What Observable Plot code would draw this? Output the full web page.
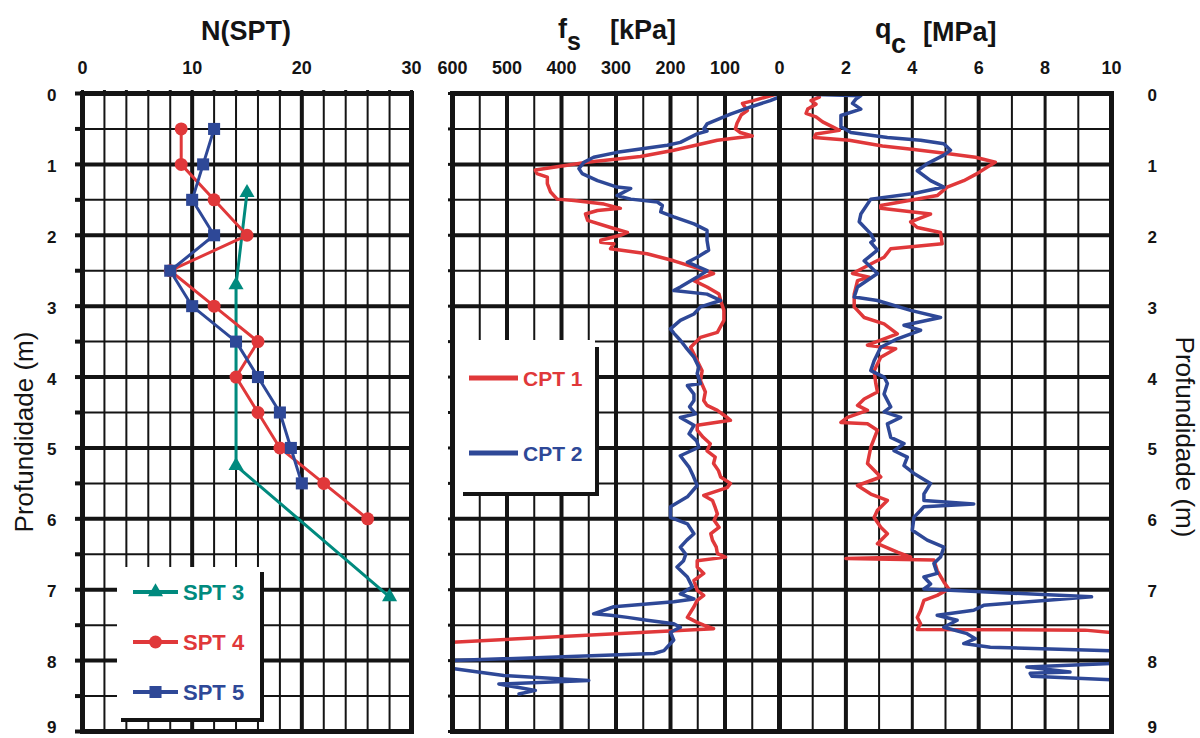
<!DOCTYPE html>
<html>
<head>
<meta charset="utf-8">
<script src="https://cdn.jsdelivr.net/npm/d3@7"></script>
<script src="https://cdn.jsdelivr.net/npm/@observablehq/plot@0.6"></script>
<style>
  body { margin: 0; background: #fff; }
  #chart { position: relative; width: 1200px; height: 738px; overflow: hidden; }
  #chart > .layer { position: absolute; left: 0; top: 0; }
</style>
</head>
<body>
<div id="chart"></div>
<script>
// ---- SPT blow counts: N versus depth (m) ----
const spt3Depth = [1.4, 2.7, 5.25, 7.1];
const spt3N     = [15, 14, 14, 28];
const spt4Depth = [0.5, 1, 1.5, 2, 2.5, 3, 3.5, 4, 4.5, 5, 5.5, 6];
const spt4N     = [9, 9, 12, 15, 8, 12, 16, 14, 16, 18, 22, 26];
const spt5Depth = [0.5, 1, 1.5, 2, 2.5, 3, 3.5, 4, 4.5, 5, 5.5];
const spt5N     = [12, 11, 10, 12, 8, 10, 14, 16, 18, 19, 20];

// ---- CPT sleeve friction fs (kPa) ----
const cpt1FsDepth = [0.01,0.1,0.14,0.24,0.3,0.42,0.5,0.55,0.6,0.66,0.8,0.89,0.97,1.08,1.13,1.18,1.27,1.39,1.49,1.51,1.56,1.62,1.65,1.7,1.79,1.89,1.96,2.0,2.07,2.1,2.12,2.19,2.26,2.36,2.45,2.52,2.54,2.64,2.73,2.83,2.92,3.06,3.2,3.37,3.44,3.58,3.77,3.91,4.05,4.21,4.33,4.4,4.47,4.57,4.61,4.68,4.75,4.85,4.94,5.04,5.13,5.22,5.32,5.41,5.5,5.56,5.67,5.74,5.84,5.93,6.02,6.12,6.21,6.3,6.4,6.49,6.54,6.59,6.68,6.77,6.87,7.01,7.08,7.15,7.24,7.39,7.46,7.5,7.55,7.74];
const cpt1Fs      = [7,48,68,59,70,78,81,72,50,114,194,255,353,448,445,426,426,420,408,377,322,292,334,356,352,310,279,292,328,328,304,310,243,194,157,127,121,157,133,111,108,102,102,114,145,163,151,142,145,136,139,133,114,96,90,151,151,140,127,133,118,121,112,108,90,96,139,123,118,114,120,111,126,123,116,114,99,151,151,139,157,151,139,151,157,169,151,139,121,600];
const cpt2FsDepth = [0.05,0.1,0.19,0.29,0.43,0.5,0.53,0.57,0.69,0.73,0.83,0.9,0.97,1.06,1.13,1.23,1.32,1.34,1.44,1.49,1.53,1.58,1.67,1.74,1.84,1.93,2.07,2.21,2.31,2.38,2.5,2.59,2.73,2.78,2.83,2.92,3.01,3.11,3.2,3.32,3.38,3.48,3.58,3.72,3.86,3.95,4.09,4.12,4.24,4.33,4.42,4.52,4.57,4.68,4.8,4.9,4.99,5.11,5.27,5.4,5.53,5.69,5.83,5.98,6.07,6.21,6.3,6.4,6.5,6.59,6.68,6.82,6.96,7.06,7.13,7.17,7.24,7.34,7.36,7.39,7.43,7.48,7.53,7.6,7.71,7.86,7.9,8.0,8.05,8.11,8.21,8.28,8.33,8.42,8.47];
const cpt2Fs      = [1,17,53,90,133,139,133,151,182,206,298,341,359,368,362,334,298,273,298,273,224,215,218,194,157,133,133,130,151,169,133,151,182,194,133,108,145,157,182,200,194,182,172,157,148,151,145,169,157,157,165,154,182,157,166,152,148,182,166,158,151,169,200,200,169,157,170,182,172,176,188,169,160,182,157,194,304,341,310,279,243,194,182,200,194,212,230,600,660,600,506,350,515,448,478];

// ---- CPT cone resistance qc (MPa) ----
const cpt1QcDepth = [0.05,0.1,0.15,0.22,0.28,0.33,0.4,0.47,0.52,0.57,0.62,0.66,0.74,0.79,0.85,0.9,0.97,1.04,1.13,1.23,1.32,1.44,1.58,1.62,1.7,1.81,1.89,1.96,2.12,2.19,2.31,2.38,2.54,2.59,2.64,2.83,3.01,3.16,3.25,3.39,3.55,3.6,3.72,3.91,4.09,4.21,4.31,4.4,4.47,4.57,4.64,4.66,4.75,4.99,5.22,5.41,5.53,5.65,5.74,5.88,5.98,6.12,6.21,6.35,6.47,6.54,6.56,6.58,6.73,6.89,6.99,7.08,7.15,7.29,7.39,7.48,7.56,7.57,7.62];
const cpt1Qc      = [1.2,0.95,1.1,0.85,0.8,1.1,1.3,1.6,1.8,1.1,1.05,2.1,3.1,4.05,5.1,5.9,6.5,6.25,5.95,5.55,5.05,4.75,3.05,3.05,4.55,3.95,4.15,4.85,4.9,3.35,3.15,2.85,2.2,2.7,2.35,2.25,2.25,2.55,3.15,3.55,2.65,3.5,3.05,2.85,2.9,2.95,2.55,2.35,2.65,2.05,1.85,2.65,2.95,2.75,2.65,3.05,2.35,2.75,3.25,2.95,2.85,3.05,3.25,2.95,3.55,3.95,2.0,4.65,4.75,4.95,5.1,4.75,4.35,4.25,4.15,4.25,4.15,9.2,10.4];
const cpt2QcDepth = [0.01,0.03,0.08,0.14,0.22,0.31,0.47,0.55,0.62,0.66,0.71,0.8,0.87,0.99,1.09,1.23,1.32,1.41,1.49,1.7,1.81,1.98,2.07,2.1,2.21,2.36,2.54,2.73,2.87,2.92,3.06,3.16,3.27,3.34,3.46,3.58,3.77,3.91,4.0,4.09,4.24,4.42,4.49,4.57,4.66,4.85,4.94,5.04,5.13,5.25,5.36,5.5,5.65,5.74,5.79,5.83,5.98,6.16,6.3,6.4,6.54,6.63,6.77,6.82,6.92,6.99,7.1,7.22,7.29,7.36,7.43,7.53,7.62,7.69,7.76,7.81,7.86,7.95,8.04,8.09,8.16,8.18,8.22,8.27,8.3];
const cpt2Qc      = [0.85,2.45,2.3,2.2,2.45,1.85,1.85,2.15,3.25,4.25,4.95,5.15,4.95,4.45,4.15,4.55,4.95,4.05,2.75,2.45,2.4,2.75,2.85,2.75,2.95,2.55,2.95,2.35,2.25,2.95,3.95,4.85,3.75,4.25,3.55,3.05,2.85,2.75,3.15,3.25,3.15,3.35,3.15,3.65,3.25,3.35,3.75,3.45,3.85,3.75,4.05,4.55,4.35,4.35,5.85,4.35,4.05,4.0,4.45,4.95,4.85,4.65,4.75,4.35,4.55,4.35,9.4,6.15,5.85,4.75,5.35,4.95,5.65,5.9,5.55,6.35,10,11.5,10,7.45,8.75,7.55,7.6,10,10.5];

// ---- axis ticks ----
const nTicks  = [0, 10, 20, 30];
const fsTicks = [0, 100, 200, 300, 400, 500, 600];
const qcTicks = [2, 4, 6, 8, 10];
const depthLabels = [0, 1, 2, 3, 4, 5, 6, 7, 8];
const depthLast = [9];

const ink = "#141414";
const red = "#e0383a";
const blue = "#2e4897";
const teal = "#008a7e";
const font = '"Liberation Sans", Arial, sans-serif';

const rows = (depths, values) => depths.map((d, i) => ({depth: d, value: values[i]}));

const W = 1200, H = 738, TOP = 93, BOTTOM = 7;
const halfMeters  = d3.range(0.5, 9, 1);
const wholeMeters = d3.range(1, 9);
const allHalfTicks = d3.range(0, 9.01, 0.5);

const baseStyle = {background: "none", fontFamily: font, fontWeight: "bold", fontSize: "17px", color: ink, overflow: "visible"};

const depthGrid = [
  Plot.ruleY(halfMeters, {stroke: ink, strokeWidth: 2}),
  Plot.ruleY(wholeMeters, {stroke: ink, strokeWidth: 4})
];

// depth tick labels; the last one sits just above the bottom edge
const depthAxis = (anchor, tickPadding) => [
  Plot.axisY({anchor, ticks: depthLabels, tickSize: 0, tickPadding, dy: 2, fontSize: 17, fontWeight: "bold"}),
  Plot.axisY({anchor, ticks: depthLast, tickSize: 0, tickPadding, dy: -4, fontSize: 17, fontWeight: "bold"})
];

// Panel 1: N(SPT)
const sptPlot = Plot.plot({
  width: W, height: H,
  marginLeft: 82, marginRight: W - 411, marginTop: TOP, marginBottom: BOTTOM,
  style: baseStyle,
  x: {domain: [0, 30], label: null},
  y: {domain: [0, 9], reverse: true, label: null},
  marks: [
    Plot.ruleX([2, 4, 6, 8, 12, 14, 16, 18, 22, 24, 26, 28], {stroke: ink, strokeWidth: 2}),
    Plot.ruleX([10, 20], {stroke: ink, strokeWidth: 4}),
    ...depthGrid,
    Plot.axisX({anchor: "top", ticks: d3.range(0, 31, 2), tickSize: 4, strokeWidth: 3, tickFormat: () => ""}),
    Plot.axisX({anchor: "top", ticks: nTicks, tickSize: 0, tickPadding: 20, fontSize: 18, fontWeight: "bold"}),
    Plot.axisY({anchor: "left", ticks: allHalfTicks, tickSize: 7, strokeWidth: 4, tickFormat: () => ""}),
    ...depthAxis("left", 26),
    Plot.frame({stroke: ink, strokeWidth: 5}),
    Plot.line(rows(spt3Depth, spt3N), {x: "value", y: "depth", stroke: teal, strokeWidth: 3}),
    Plot.line(rows(spt4Depth, spt4N), {x: "value", y: "depth", stroke: red, strokeWidth: 3}),
    Plot.line(rows(spt5Depth, spt5N), {x: "value", y: "depth", stroke: blue, strokeWidth: 3}),
    Plot.dot(rows(spt3Depth, spt3N), {x: "value", y: "depth", symbol: "triangle", r: 5.6, fill: teal}),
    Plot.dot(rows(spt4Depth, spt4N), {x: "value", y: "depth", symbol: "circle", r: 6.5, fill: red}),
    Plot.dot(rows(spt5Depth, spt5N), {x: "value", y: "depth", symbol: "square", r: 6.8, fill: blue})
  ]
});

// Panel 2: sleeve friction fs, reversed axis
const fsPlot = Plot.plot({
  width: W, height: H,
  marginLeft: 452, marginRight: W - 779, marginTop: TOP, marginBottom: BOTTOM,
  style: baseStyle,
  x: {domain: [0, 600], reverse: true, label: null},
  y: {domain: [0, 9], reverse: true, label: null},
  marks: [
    Plot.ruleX([50, 150, 250, 350, 450, 550], {stroke: ink, strokeWidth: 2}),
    Plot.ruleX([100, 200, 300, 400, 500], {stroke: ink, strokeWidth: 4}),
    ...depthGrid,
    Plot.axisX({anchor: "top", ticks: fsTicks, tickSize: 0, tickPadding: 20, fontSize: 18, fontWeight: "bold"}),
    Plot.axisY({anchor: "left", ticks: allHalfTicks, tickSize: 4, strokeWidth: 3, tickFormat: () => ""}),
    Plot.line(rows(cpt1FsDepth, cpt1Fs), {x: "value", y: "depth", stroke: red, strokeWidth: 3.5, clip: true}),
    Plot.line(rows(cpt2FsDepth, cpt2Fs), {x: "value", y: "depth", stroke: blue, strokeWidth: 3.5, clip: true}),
    Plot.frame({stroke: ink, strokeWidth: 5})
  ]
});

// Panel 3: cone resistance qc
const qcPlot = Plot.plot({
  width: W, height: H,
  marginLeft: 779, marginRight: W - 1111, marginTop: TOP, marginBottom: BOTTOM,
  style: baseStyle,
  x: {domain: [0, 10], label: null},
  y: {domain: [0, 9], reverse: true, label: null},
  marks: [
    Plot.ruleX([1, 3, 5, 7, 9], {stroke: ink, strokeWidth: 2}),
    Plot.ruleX([4, 8], {stroke: ink, strokeWidth: 3}),
    Plot.ruleX([2, 6], {stroke: ink, strokeWidth: 4}),
    ...depthGrid,
    Plot.axisX({anchor: "top", ticks: qcTicks, tickSize: 0, tickPadding: 20, fontSize: 18, fontWeight: "bold"}),
    ...depthAxis("right", 36),
    Plot.line(rows(cpt1QcDepth, cpt1Qc), {x: "value", y: "depth", stroke: red, strokeWidth: 3.5, clip: true}),
    Plot.line(rows(cpt2QcDepth, cpt2Qc), {x: "value", y: "depth", stroke: blue, strokeWidth: 3.5, clip: true}),
    Plot.frame({stroke: ink, strokeWidth: 5})
  ]
});

const chart = document.getElementById("chart");
for (const p of [sptPlot, fsPlot, qcPlot]) {
  p.classList.add("layer");
  chart.appendChild(p);
}

// Titles, depth labels and legends
const overlay = d3.select(chart).append("svg")
  .attr("class", "layer")
  .attr("width", W).attr("height", H)
  .style("font-family", font)
  .style("fill", ink);

const bold = (sel) => sel.attr("font-weight", "bold");

bold(overlay.append("text").attr("x", 246).attr("y", 40).attr("text-anchor", "middle").attr("font-size", 27).text("N(SPT)"));

const fsTitle = overlay.append("g").attr("font-weight", "bold");
fsTitle.append("text").attr("x", 558).attr("y", 38).attr("font-size", 27).text("f");
fsTitle.append("text").attr("x", 567).attr("y", 50).attr("font-size", 25).text("s");
fsTitle.append("text").attr("x", 610).attr("y", 39).attr("font-size", 27).text("[kPa]");

const qcTitle = overlay.append("g").attr("font-weight", "bold");
qcTitle.append("text").attr("x", 875).attr("y", 38).attr("font-size", 27).text("q");
qcTitle.append("text").attr("x", 891).attr("y", 53).attr("font-size", 27).text("c");
qcTitle.append("text").attr("x", 923).attr("y", 41).attr("font-size", 27).text("[MPa]");

overlay.append("text")
  .attr("transform", "translate(33,432) rotate(-90)")
  .attr("text-anchor", "middle").attr("font-size", 26)
  .text("Profundidade (m)");
overlay.append("text")
  .attr("transform", "translate(1176,437) rotate(90)")
  .attr("text-anchor", "middle").attr("font-size", 26)
  .text("Profundidade (m)");

// SPT legend with drop shadow
overlay.append("rect").attr("x", 121).attr("y", 572).attr("width", 143).attr("height", 150).attr("fill", ink);
overlay.append("rect").attr("x", 117).attr("y", 567).attr("width", 143).attr("height", 151).attr("fill", "#fff");
const sptLegend = [
  {label: "SPT 3", color: teal, symbol: d3.symbolTriangle, size: Math.PI * 5.6 * 5.6, y: 592},
  {label: "SPT 4", color: red, symbol: d3.symbolCircle, size: Math.PI * 6.5 * 6.5, y: 642},
  {label: "SPT 5", color: blue, symbol: d3.symbolSquare, size: Math.PI * 6.8 * 6.8, y: 692}
];
for (const e of sptLegend) {
  overlay.append("line").attr("x1", 133).attr("x2", 178).attr("y1", e.y).attr("y2", e.y)
    .attr("stroke", e.color).attr("stroke-width", 4);
  overlay.append("path").attr("transform", `translate(155.5,${e.y})`)
    .attr("d", d3.symbol(e.symbol, e.size)()).attr("fill", e.color);
  bold(overlay.append("text").attr("x", 183).attr("y", e.y + 8).attr("font-size", 22)
    .attr("fill", e.color).text(e.label));
}

// CPT legend with drop shadow
overlay.append("rect").attr("x", 463).attr("y", 347).attr("width", 136).attr("height", 149).attr("fill", ink);
overlay.append("rect").attr("x", 455).attr("y", 340).attr("width", 140).attr("height", 152).attr("fill", "#fff");
const cptLegend = [
  {label: "CPT 1", color: red, y: 378},
  {label: "CPT 2", color: blue, y: 453}
];
for (const e of cptLegend) {
  overlay.append("line").attr("x1", 469).attr("x2", 518).attr("y1", e.y).attr("y2", e.y)
    .attr("stroke", e.color).attr("stroke-width", 5);
  bold(overlay.append("text").attr("x", 523).attr("y", e.y + 8).attr("font-size", 21)
    .attr("fill", e.color).text(e.label));
}
</script>
</body>
</html>
